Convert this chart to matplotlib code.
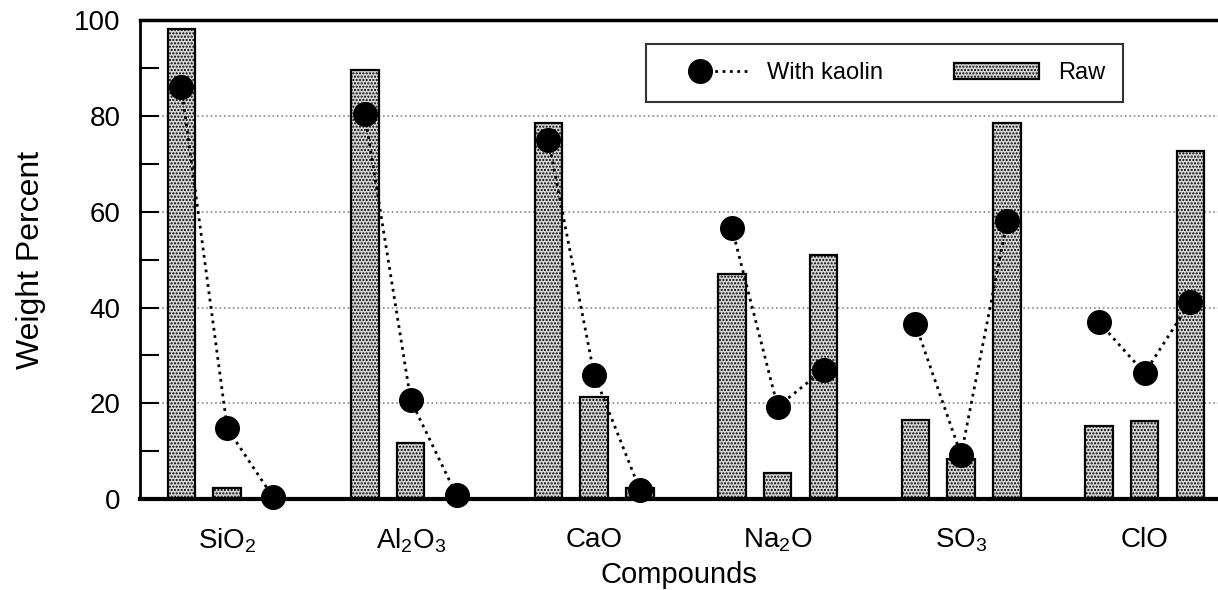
import matplotlib
matplotlib.use('Agg')

import numpy as np
import matplotlib.pyplot as plt
from matplotlib.ticker import MultipleLocator
from matplotlib.legend_handler import HandlerLine2D

plt.rcParams['font.family'] = ['Liberation Sans', 'DejaVu Sans']
plt.rcParams['mathtext.default'] = 'regular'
plt.rcParams['hatch.color'] = '#7a7a7a'

compounds = ['SiO$_2$', 'Al$_2$O$_3$', 'CaO', 'Na$_2$O', 'SO$_3$', 'ClO']
# three raw samples per compound
raw = [
    [98.1, 2.3, 0.0],
    [89.5, 11.7, 0.0],
    [78.5, 21.3, 2.3],
    [46.9, 5.4, 51.0],
    [16.5, 8.4, 78.5],
    [15.3, 16.3, 72.6],
]
with_kaolin = [
    [86.0, 14.8, 0.4],
    [80.3, 20.7, 0.8],
    [75.0, 26.0, 1.9],
    [56.7, 19.3, 27.0],
    [36.6, 9.2, 58.0],
    [37.0, 26.3, 41.2],
]


class MarkerLeftHandler(HandlerLine2D):
    'legend line: marker sits left, dotted tail runs to the right'
    def create_artists(self, *args, **kwargs):
        artists = super().create_artists(*args, **kwargs)
        for a in artists:
            xd, yd = a.get_data()
            x0, x1 = xd[0], xd[-1]
            a.set_data(np.linspace(x0 + 0.43 * (x1 - x0), x1, len(xd)), yd)
            if a.get_marker() not in (None, 'None', ''):
                a.set_markevery([0])
        return artists


fig = plt.figure(figsize=(12.18, 5.9), dpi=100)
ax = fig.add_axes([0.115, 0.154, 0.885, 0.812])

for g in range(len(compounds)):
    xs = g * 4 + np.arange(3)
    ax.bar(xs, raw[g], width=0.6, facecolor='#d6d6d6', edgecolor='black',
           linewidth=1.6, hatch='.....', zorder=2,
           label='Raw' if g == 0 else None)
    ax.plot(xs, with_kaolin[g], linestyle=':', color='black', linewidth=2,
            marker='o', markersize=17, markerfacecolor='black', zorder=3,
            clip_on=False, label='With kaolin' if g == 0 else None)

ax.set_xlim(-0.9, 22.6)
ax.set_ylim(0, 100)
ax.set_xticks([g * 4 + 1 for g in range(len(compounds))])
ax.set_xticklabels(compounds, fontsize=20)
ax.tick_params(axis='x', length=0, pad=20)
ax.yaxis.set_major_locator(MultipleLocator(20))
ax.yaxis.set_minor_locator(MultipleLocator(10))
ax.tick_params(axis='y', which='both', direction='in', length=14, width=1.5,
               labelsize=20, pad=14)
ax.grid(axis='y', linestyle=':', color='#888888', linewidth=1.2, zorder=0)
ax.set_axisbelow(True)

ax.spines['right'].set_visible(False)
ax.spines['top'].set_linewidth(2.5)
ax.spines['bottom'].set_linewidth(3)
ax.spines['left'].set_linewidth(2)

ax.set_ylabel('Weight Percent', fontsize=23, labelpad=20)
ax.set_xlabel('Compounds', fontsize=21, labelpad=4)

handles, labels = ax.get_legend_handles_labels()
order = [labels.index('With kaolin'), labels.index('Raw')]
leg = ax.legend([handles[i] for i in order], [labels[i] for i in order],
                loc='upper left', bbox_to_anchor=(0.458, 0.974), ncol=2,
                fontsize=17, frameon=True, fancybox=False, edgecolor='black',
                columnspacing=3.0, handlelength=3.6, handletextpad=0.8,
                borderpad=0.75, numpoints=1,
                handler_map={handles[order[0]]: MarkerLeftHandler(numpoints=1)})
leg.get_frame().set_linewidth(1.5)

fig.savefig('out.png', dpi=100)
